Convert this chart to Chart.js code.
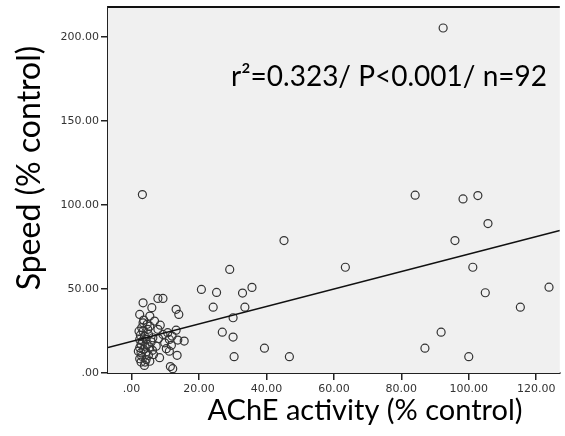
<!DOCTYPE html>
<html>
<head>
<meta charset="utf-8">
<script src="https://cdn.jsdelivr.net/npm/chart.js@4"></script>
<style>
  body { margin: 0; background: #fff; }
  canvas { display: block; }
</style>
</head>
<body>
<canvas id="scatterChart" width="565" height="436"></canvas>
<script>
// AChE activity (% control) vs Speed (% control)
var acheCluster = [7.8, 9.3, 3.4, 6.0, 13.2, 14.0, 2.4, 5.4, 6.8, 3.4, 5.4, 2.2, 3.4, 7.8, 10.7, 13.2,
  9.3, 11.2, 13.7, 15.6, 6.3, 2.4, 4.3, 2.8, 4.6, 2.4, 3.6, 5.4, 7.3, 10.3, 11.2, 2.8, 4.3, 2.4, 4.3,
  5.4, 8.3, 13.5, 11.5, 12.2, 2.8, 4.0, 3.0, 4.8, 2.6, 3.8, 5.0, 3.2, 5.8, 4.0, 6.2, 3.0, 5.0, 3.6,
  4.6, 8.5, 9.8, 12.0, 2.0, 6.5, 3.8, 8.0, 11.8];
var speedCluster = [44.4, 44.4, 41.8, 38.9, 37.9, 34.9, 34.9, 33.9, 30.9, 29.9, 27.9, 24.9, 24.9, 26.0,
  24.0, 25.5, 23.0, 20.0, 19.6, 19.0, 21.0, 20.0, 20.0, 17.0, 17.0, 15.0, 14.0, 15.5, 16.0, 14.5, 13.0,
  12.0, 12.5, 8.5, 8.0, 7.0, 9.1, 10.5, 3.8, 2.6, 6.5, 6.5, 27.0, 26.0, 22.5, 22.0, 23.0, 19.0, 18.5,
  16.0, 13.5, 10.0, 10.5, 31.5, 29.0, 28.5, 18.0, 22.0, 13.0, 11.0, 4.5, 20.5, 16.5];
var acheSpread = [3.2, 45.2, 63.4, 29.1, 20.7, 25.2, 32.9, 35.7, 24.2, 33.6, 30.1, 26.9, 30.1, 39.4, 30.4,
  46.8, 92.4, 84.1, 98.3, 102.7, 105.7, 95.9, 101.2, 104.9, 123.8, 115.3, 91.8, 87.0, 100.0];
var speedSpread = [106.3, 78.9, 63.0, 61.7, 49.8, 48.0, 47.6, 51.0, 39.2, 39.2, 32.9, 24.3, 21.4, 14.8,
  9.7, 9.7, 205.5, 105.9, 103.7, 105.7, 89.0, 78.9, 63.0, 47.8, 51.1, 39.2, 24.3, 14.8, 9.7];

// fit line as shown in the figure
var fitIntercept = 18.8;
var fitSlope = 0.52;
var xRange = [-7, 127];
var yRange = [0, 218];

var statsText = "r\u00b2=0.323/ P<0.001/ n=92";
var xTitle = "AChE activity (% control)";
var yTitle = "Speed (% control)";

var points = [];
acheCluster.forEach(function (x, i) { points.push({ x: x, y: speedCluster[i] }); });
acheSpread.forEach(function (x, i) { points.push({ x: x, y: speedSpread[i] }); });

var fitLine = xRange.map(function (x) { return { x: x, y: fitIntercept + fitSlope * x }; });

function spssLabel(v) {
  return v.toFixed(2).replace(/^0\./, ".");
}

var decorations = {
  id: "decorations",
  beforeDatasetsDraw: function (chart) {
    var c = chart.ctx, a = chart.chartArea;
    c.save();
    c.fillStyle = "#f0f0f0";
    c.fillRect(a.left, a.top, a.right - a.left, a.bottom - a.top);
    c.restore();
  },
  afterDraw: function (chart) {
    var c = chart.ctx, a = chart.chartArea;
    c.save();
    c.strokeStyle = "#111";
    c.lineWidth = 2;
    c.beginPath();
    c.moveTo(a.left, a.top);
    c.lineTo(a.right, a.top);
    c.stroke();

    c.fillStyle = "#000";
    c.font = "28px Lato";
    c.textAlign = "center";
    c.textBaseline = "alphabetic";
    c.fillText(statsText, 389, 86);

    c.font = "29px Lato";
    c.textBaseline = "middle";
    c.fillText(xTitle, 365, 411);

    c.font = "32px Lato";
    c.translate(30, 168);
    c.rotate(-Math.PI / 2);
    c.fillText(yTitle, 0, 0);
    c.restore();
  }
};

var ctx = document.getElementById("scatterChart").getContext("2d");
var scatterChart = new Chart(ctx, {
  type: "scatter",
  data: {
    datasets: [
      {
        label: "Speed",
        data: points,
        pointStyle: "circle",
        pointRadius: 4,
        pointBorderWidth: 1.2,
        borderColor: "#333",
        backgroundColor: "rgba(0,0,0,0)",
        order: 2,
      },
      {
        type: "line",
        label: "Fit",
        data: fitLine,
        borderColor: "#111",
        borderWidth: 1.5,
        pointRadius: 0,
        fill: false,
        order: 1,
      },
    ],
  },
  plugins: [decorations],
  options: {
    responsive: false,
    animation: false,
    layout: { padding: { top: 7, right: 0, left: 0, bottom: 0 } },
    plugins: {
      legend: { display: false },
      tooltip: { enabled: false },
    },
    scales: {
      x: {
        type: "linear",
        min: xRange[0],
        max: xRange[1],
        afterFit: function (s) { s.height = 63; s.paddingLeft = 0; s.paddingRight = 0; },
        grid: { drawOnChartArea: false, drawTicks: true, tickLength: 7, color: "#222", lineWidth: 1.5 },
        border: { color: "#222", width: 2 },
        ticks: {
          stepSize: 20,
          includeBounds: false,
          padding: 3,
          maxRotation: 0,
          color: "#333",
          font: { family: "DejaVu Sans", size: 11 },
          callback: spssLabel,
        },
      },
      y: {
        type: "linear",
        min: yRange[0],
        max: yRange[1],
        afterFit: function (s) { s.width = 108; s.paddingTop = 0; s.paddingBottom = 0; },
        grid: { drawOnChartArea: false, drawTicks: true, tickLength: 7, color: "#222", lineWidth: 1.5 },
        border: { color: "#222", width: 2 },
        ticks: {
          stepSize: 50,
          includeBounds: false,
          padding: 2,
          color: "#333",
          font: { family: "DejaVu Sans", size: 11 },
          callback: spssLabel,
        },
      },
    },
  },
});
</script>
</body>
</html>
